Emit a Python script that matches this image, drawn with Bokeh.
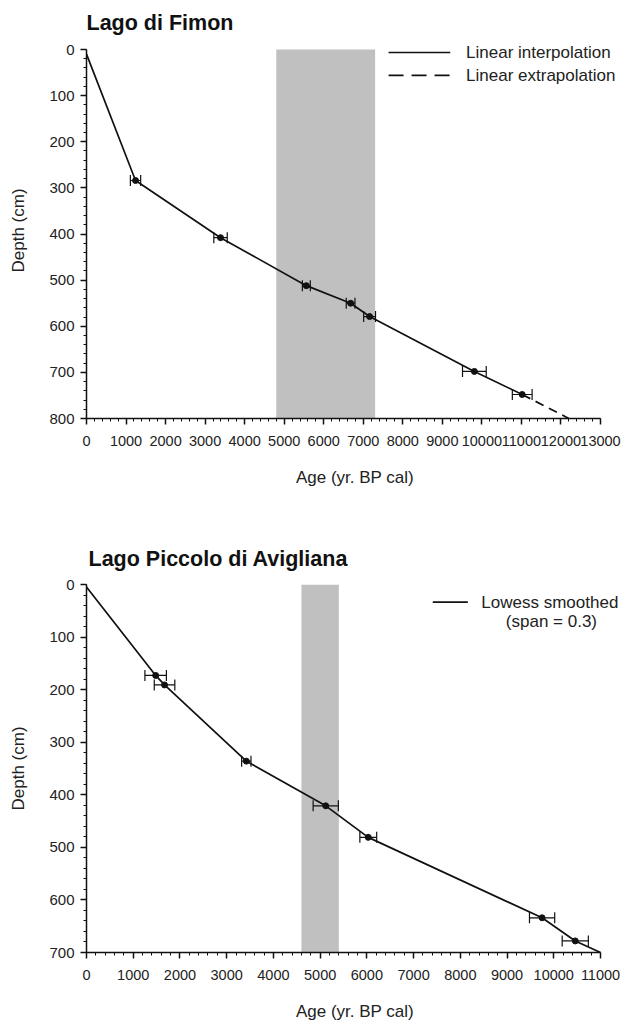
from bokeh.plotting import figure
from bokeh.models import (Range1d, FixedTicker, Whisker, ColumnDataSource,
                          BoxAnnotation, Label, TeeHead)
from bokeh.layouts import column
from bokeh.embed import file_html
from bokeh.resources import INLINE

FONT = "Liberation Sans"

# ---------------- Lago di Fimon ----------------
fim_age = [1240, 3390, 5560, 6680, 7160, 9810, 11020]
fim_depth = [284, 408, 512, 550, 579, 698, 748]
fim_err = [130, 170, 100, 110, 150, 300, 250]
fim_line_age = [0, 1240, 3390, 5560, 6680, 7160, 9810, 11020]
fim_line_depth = [10, 284, 408, 512, 550, 579, 698, 748]
fim_extrap_age = [11020, 12200]
fim_extrap_depth = [748, 800]
fim_band = [4800, 7300]

# ---------------- Lago Piccolo di Avigliana ----------------
avi_age = [1480, 1670, 3420, 5120, 6030, 9750, 10460]
avi_depth = [173, 191, 336, 421, 481, 634, 678]
avi_err = [230, 220, 100, 270, 180, 270, 280]
avi_curve_age = [0, 1480, 1670, 3420, 5120, 6030, 9750, 10460, 11000]
avi_curve_depth = [5, 173, 191, 336, 421, 481, 634, 678, 700]
avi_band = [4600, 5400]

W = 623
LEFT = 86
AXIS_PX = 514          # pixel length of the drawn x axis
FRAME_PX = W - LEFT    # frame extends to the right edge (room for legend text)


def make_fig(title, xmax, ymax, height, b_top, b_bottom, axis_px_h, extra_top,
             title_offset, title_standoff):
    xend = xmax * FRAME_PX / AXIS_PX
    ytop = -ymax * extra_top / axis_px_h
    p = figure(width=W, height=height,
               x_range=Range1d(0, xend), y_range=Range1d(ymax, ytop),
               output_backend="svg", toolbar_location=None,
               min_border_left=LEFT, min_border_right=0,
               min_border_top=b_top, min_border_bottom=b_bottom)
    p.outline_line_color = None
    p.grid.visible = False
    p.background_fill_color = "white"
    p.title.text = title
    p.title.text_font = FONT
    p.title.text_font_size = "21.5px"
    p.title.text_font_style = "bold"
    p.title.text_color = "#111111"
    p.title.align = "left"
    p.title.standoff = title_standoff
    p.title.offset = title_offset

    p.xaxis.bounds = (0, xmax)
    p.yaxis.bounds = (0, ymax)
    p.xaxis.ticker = FixedTicker(ticks=list(range(0, xmax + 1, 1000)),
                                 minor_ticks=list(range(0, xmax + 1, 200)))
    p.yaxis.ticker = FixedTicker(ticks=list(range(0, ymax + 1, 100)),
                                 minor_ticks=list(range(0, ymax + 1, 20)))
    for ax in (p.xaxis, p.yaxis):
        ax.axis_line_color = "#111111"
        ax.axis_line_width = 1.5
        ax.major_tick_line_color = "#111111"
        ax.minor_tick_line_color = "#111111"
        ax.major_tick_line_width = 1.5
        ax.major_tick_in = 0
        ax.major_tick_out = 6
        ax.minor_tick_in = 0
        ax.minor_tick_out = 3
        ax.major_label_text_font = FONT
        ax.major_label_text_color = "#222222"
        ax.axis_label_text_font = FONT
        ax.axis_label_text_font_style = "normal"
        ax.axis_label_text_font_size = "17px"
        ax.axis_label_text_color = "#222222"
    p.xaxis.major_label_text_font_size = "14.5px"
    p.yaxis.major_label_text_font_size = "15px"
    p.xaxis.major_label_standoff = 11
    p.yaxis.major_label_standoff = 6
    p.xaxis.axis_label = "Age (yr. BP cal)"
    p.yaxis.axis_label = "Depth (cm)"
    p.xaxis.axis_label_standoff = 19
    p.yaxis.axis_label_standoff = 18
    return p


def add_points(p, ages, depths, errs):
    src = ColumnDataSource(dict(age=ages, depth=depths,
                                lo=[a - e for a, e in zip(ages, errs)],
                                hi=[a + e for a, e in zip(ages, errs)]))
    w = Whisker(base="depth", lower="lo", upper="hi", dimension="width",
                source=src, line_color="#111111", line_width=1.2,
                lower_head=TeeHead(size=11, line_color="#111111", line_width=1.2),
                upper_head=TeeHead(size=11, line_color="#111111", line_width=1.2))
    p.add_layout(w)
    p.scatter("age", "depth", source=src, size=6, color="#111111")


# ---------- top figure ----------
# axis 0..800 spans 369 px; frame extended 7 px above the 0 line
p1 = make_fig("Lago di Fimon", 13000, 800, 505, 37, 87, 369, 7, 0, 16)
p1.add_layout(BoxAnnotation(left=fim_band[0], right=fim_band[1],
                            top=0, bottom=800,
                            fill_color="#c0c0c0", fill_alpha=1.0,
                            line_alpha=0, level="underlay"))
p1.line(fim_line_age, fim_line_depth, line_color="#111111", line_width=1.7)
p1.line(fim_extrap_age, fim_extrap_depth, line_color="#111111",
        line_width=1.7, line_dash="9 6")
add_points(p1, fim_age, fim_depth, fim_err)

# legend (top)
p1.line([7640, 9200], [6.5, 6.5], line_color="#111111", line_width=1.7)
p1.line([7640, 9200], [56, 56], line_color="#111111", line_width=1.7,
        line_dash="15 8")
for txt, d in (("Linear interpolation", 6.5), ("Linear extrapolation", 56)):
    p1.add_layout(Label(x=9600, y=d, text=txt, text_font=FONT,
                        text_font_size="17px", text_color="#222222",
                        text_baseline="middle", text_align="left"))

# ---------- bottom figure ----------
p2 = make_fig("Lago Piccolo di Avigliana", 11000, 700, 518, 79, 64, 370, 0, 2, 27)
p2.add_layout(BoxAnnotation(left=avi_band[0], right=avi_band[1],
                            top=0, bottom=700,
                            fill_color="#c0c0c0", fill_alpha=1.0,
                            line_alpha=0, level="underlay"))
p2.line(avi_curve_age, avi_curve_depth, line_color="#111111", line_width=1.7)
add_points(p2, avi_age, avi_depth, avi_err)

p2.line([7410, 8160], [33.5, 33.5], line_color="#111111", line_width=1.7)
p2.add_layout(Label(x=8450, y=33.5, text="Lowess smoothed", text_font=FONT,
                    text_font_size="17px", text_color="#222222",
                    text_baseline="middle", text_align="left"))
p2.add_layout(Label(x=9950, y=71, text="(span = 0.3)", text_font=FONT,
                    text_font_size="17px", text_color="#222222",
                    text_baseline="middle", text_align="center"))

layout = column(p1, p2, spacing=0)
open("out.html", "w").write(file_html(layout, INLINE))
